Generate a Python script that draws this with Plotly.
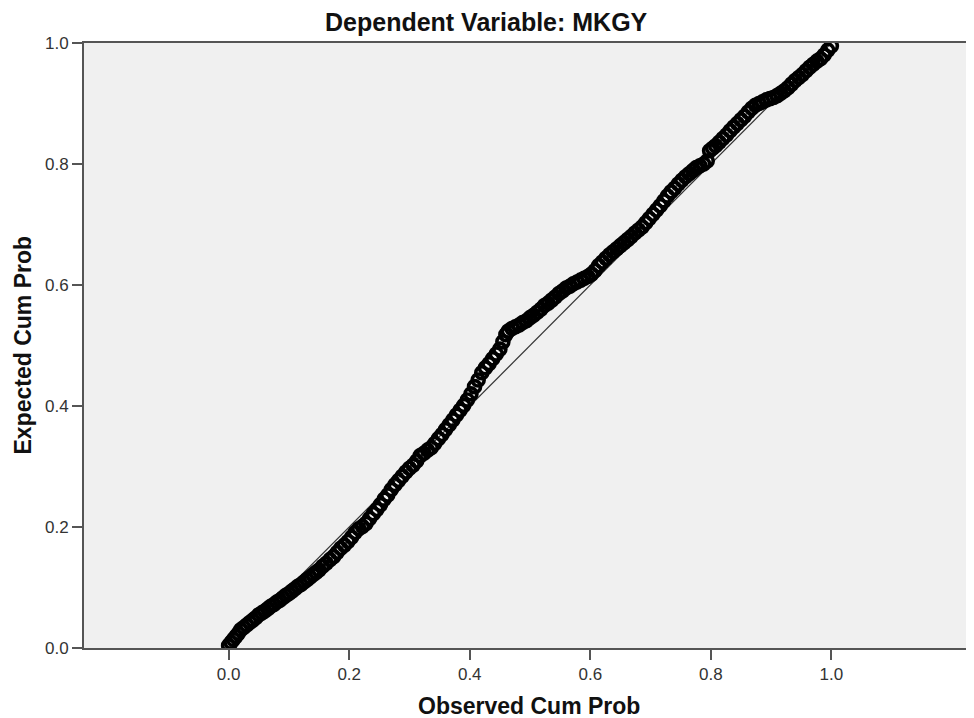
import plotly.graph_objects as go

# Observed cumulative probability (x) and expected cumulative probability (y)
observed = [
    0.000, 0.004, 0.008, 0.012, 0.016, 0.020, 0.025, 0.030, 0.035, 0.040, 0.045, 0.050, 0.055, 0.060, 0.065,
    0.070, 0.075, 0.080, 0.085, 0.090, 0.095, 0.100, 0.105, 0.110, 0.115, 0.120, 0.125, 0.130,
    0.135, 0.140, 0.145, 0.150, 0.156, 0.162, 0.168, 0.174, 0.180, 0.186, 0.192, 0.198, 0.204, 0.210, 0.216,
    0.222, 0.228, 0.234, 0.240, 0.246, 0.252, 0.258, 0.264, 0.270, 0.276, 0.282, 0.288, 0.294, 0.300, 0.306,
    0.312, 0.318, 0.324, 0.330, 0.336, 0.342, 0.348, 0.354, 0.360, 0.366, 0.372, 0.378, 0.384, 0.390, 0.396, 0.402,
    0.408, 0.414, 0.420, 0.426, 0.432, 0.438, 0.444, 0.450, 0.455, 0.460, 0.464,
    0.470, 0.476, 0.482, 0.488, 0.494, 0.500, 0.506, 0.512, 0.518, 0.524, 0.530, 0.536, 0.542, 0.548, 0.554,
    0.560, 0.566, 0.572, 0.578, 0.584, 0.590, 0.596, 0.602, 0.608, 0.614, 0.620, 0.626,
    0.632, 0.638, 0.644, 0.650, 0.656, 0.662, 0.668, 0.674, 0.680, 0.686, 0.692, 0.698, 0.704, 0.710, 0.716,
    0.722, 0.728, 0.734, 0.740, 0.746, 0.752, 0.758, 0.764, 0.770, 0.776, 0.782, 0.788, 0.794,
    0.798, 0.803, 0.808, 0.814, 0.820, 0.826, 0.832, 0.838, 0.844, 0.850, 0.856, 0.862, 0.868,
    0.874, 0.880, 0.886, 0.892, 0.898, 0.904, 0.910, 0.916, 0.922,
    0.928, 0.934, 0.940, 0.946, 0.952, 0.958, 0.964, 0.970, 0.976, 0.982, 0.988, 0.994, 1.000,
]
expected = [
    0.004, 0.009, 0.014, 0.019, 0.024, 0.030, 0.034, 0.038, 0.042, 0.046, 0.050, 0.055, 0.058, 0.061, 0.065,
    0.069, 0.072, 0.076, 0.079, 0.083, 0.087, 0.090, 0.094, 0.098, 0.102, 0.105, 0.109, 0.113,
    0.117, 0.121, 0.125, 0.129, 0.135, 0.140, 0.146, 0.151, 0.158, 0.165, 0.170, 0.176, 0.183, 0.191, 0.197,
    0.201, 0.206, 0.214, 0.222, 0.229, 0.237, 0.246, 0.253, 0.262, 0.270, 0.277, 0.284, 0.291, 0.297, 0.302,
    0.309, 0.318, 0.322, 0.327, 0.331, 0.338, 0.346, 0.353, 0.361, 0.369, 0.377, 0.385, 0.393, 0.401, 0.410, 0.420,
    0.432, 0.443, 0.455, 0.463, 0.470, 0.478, 0.486, 0.494, 0.506, 0.518, 0.524,
    0.528, 0.531, 0.534, 0.538, 0.541, 0.546, 0.550, 0.555, 0.560, 0.566, 0.570, 0.575, 0.580, 0.586, 0.590,
    0.595, 0.598, 0.602, 0.605, 0.608, 0.611, 0.614, 0.618, 0.624, 0.632, 0.638, 0.644,
    0.650, 0.655, 0.660, 0.665, 0.670, 0.675, 0.680, 0.686, 0.691, 0.696, 0.703, 0.710, 0.717, 0.724, 0.731,
    0.739, 0.747, 0.754, 0.760, 0.767, 0.773, 0.779, 0.784, 0.789, 0.794, 0.797, 0.800, 0.805,
    0.822, 0.826, 0.830, 0.836, 0.842, 0.848, 0.855, 0.861, 0.867, 0.873, 0.879, 0.886, 0.892,
    0.897, 0.900, 0.903, 0.906, 0.908, 0.910, 0.913, 0.917, 0.921,
    0.926, 0.932, 0.938, 0.943, 0.948, 0.954, 0.960, 0.965, 0.970, 0.974, 0.980, 0.988, 0.995,
]

ref_line_x = [0.0, 1.0]
ref_line_y = [0.0, 1.0]
tick_vals = [0.0, 0.2, 0.4, 0.6, 0.8, 1.0]
tick_text = ["0.0", "0.2", "0.4", "0.6", "0.8", "1.0"]

title_text = "Dependent Variable: MKGY"
x_title = "Observed Cum Prob"
y_title = "Expected Cum Prob"

FONT = "Liberation Sans, Arial, sans-serif"

fig = go.Figure()
fig.add_trace(go.Scatter(
    x=ref_line_x, y=ref_line_y, mode="lines",
    line=dict(color="#333333", width=1.2), hoverinfo="skip", showlegend=False,
))
fig.add_trace(go.Scatter(
    x=observed, y=expected, mode="markers",
    marker=dict(symbol="circle-open", size=12, color="#000000", line=dict(width=3.6, color="#000000")),
    showlegend=False,
))

# the page body adds an 8px offset, so the figure is sized to fill the rest of the window
fig.update_layout(
    width=966, height=710,
    margin=dict(l=76, r=1, t=35, b=70, autoexpand=False),
    paper_bgcolor="#ffffff",
    plot_bgcolor="#f0f0f0",
    font=dict(family=FONT, size=16, color="#222222"),
    showlegend=False,
    annotations=[
        dict(text="<b>" + title_text + "</b>", xref="paper", yref="paper", x=0.453, xanchor="center",
             y=1.0, yanchor="middle", yshift=21, showarrow=False,
             font=dict(family=FONT, size=25, color="#111111")),
        dict(text="<b>" + x_title + "</b>", xref="paper", yref="paper", x=0.5, xanchor="center",
             y=0, yanchor="middle", yshift=-58, showarrow=False,
             font=dict(family=FONT, size=23, color="#111111")),
        dict(text="<b>" + y_title + "</b>", xref="paper", yref="paper", x=0, xanchor="center",
             xshift=-62, y=0.5, yanchor="middle", textangle=-90, showarrow=False,
             font=dict(family=FONT, size=23, color="#111111")),
    ],
)

fig.update_xaxes(
    range=[-0.24, 1.235], tickvals=tick_vals, ticktext=tick_text,
    showgrid=False, zeroline=False, automargin=False,
    showline=True, linecolor="#555555", linewidth=2, mirror=True,
    ticks="outside", ticklen=10, tickwidth=2, tickcolor="#555555",
    tickfont=dict(family=FONT, size=17, color="#333333"),
)
fig.update_yaxes(
    range=[0, 1], tickvals=tick_vals, ticktext=tick_text,
    showgrid=False, zeroline=False, automargin=False,
    showline=True, linecolor="#555555", linewidth=2, mirror=True,
    ticks="outside", ticklen=10, tickwidth=2, tickcolor="#555555",
    tickfont=dict(family=FONT, size=17, color="#333333"),
)

fig.write_html("out.html")
